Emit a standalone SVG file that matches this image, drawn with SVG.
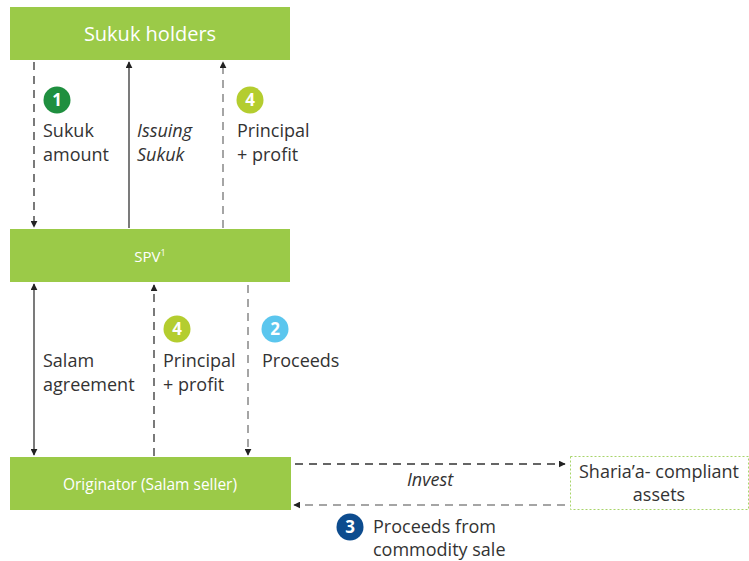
<svg xmlns="http://www.w3.org/2000/svg" width="749" height="561" viewBox="0 0 749 561">
<style>
.box{fill:#9BCA48}
.bt{fill:#fff;font-family:"Open Sans","Noto Sans",sans-serif;text-anchor:middle}
.t{fill:#333;font-family:"Open Sans","Noto Sans",sans-serif;font-size:18px}
.i{font-style:italic}
.n{fill:#fff;font-family:"Open Sans","Noto Sans",sans-serif;font-size:17px;font-weight:bold;text-anchor:middle}
.s{fill:none;stroke:#333;stroke-width:1.3}
.d{fill:none;stroke:#333;stroke-width:1.3;stroke-dasharray:8,6}
.g{fill:none;stroke:#888;stroke-width:1.5;stroke-dasharray:8,6}
</style>
<defs>
<marker id="a" viewBox="0 0 10 10" refX="9" refY="5" markerWidth="7" markerHeight="7" orient="auto-start-reverse" markerUnits="userSpaceOnUse"><path d="M0,0L10,5L0,10z" fill="#222"/></marker>
</defs>
<g id="connectors">
<line class="d" x1="34" y1="62" x2="34" y2="227" marker-end="url(#a)"/>
<line class="s" x1="129" y1="228" x2="129" y2="62" marker-end="url(#a)"/>
<line class="g" x1="223" y1="228" x2="223" y2="62" marker-end="url(#a)"/>
<line class="s" x1="34" y1="284" x2="34" y2="455" marker-start="url(#a)" marker-end="url(#a)"/>
<line class="d" x1="154" y1="456" x2="154" y2="285" marker-end="url(#a)"/>
<line class="g" x1="248" y1="285" x2="248" y2="455" marker-end="url(#a)"/>
<line class="d" x1="295" y1="464" x2="565" y2="464" marker-end="url(#a)"/>
<line class="g" x1="565" y1="505" x2="294" y2="505" marker-end="url(#a)"/>
</g>
<g id="sukuk-holders">
<rect class="box" x="10" y="7" width="280" height="53"/>
<text class="bt" x="150" y="41" font-size="20">Sukuk holders</text>
</g>
<g id="spv">
<rect class="box" x="10" y="229" width="280" height="53"/>
<text class="bt" x="150" y="262" font-size="15">SPV<tspan font-size="9" dy="-6">1</tspan></text>
</g>
<g id="originator">
<rect class="box" x="10" y="457" width="281" height="53"/>
<text class="bt" x="150" y="490" font-size="15.5">Originator (Salam seller)</text>
</g>
<g id="assets">
<rect x="570.5" y="456.5" width="178" height="53" fill="none" stroke="#A8D46A" stroke-width="1" stroke-dasharray="2,2"/>
<text class="t" x="659" y="478" text-anchor="middle">Sharia’a- compliant</text>
<text class="t" x="659" y="501" text-anchor="middle">assets</text>
</g>
<g id="labels">
<circle cx="57" cy="100" r="13.5" fill="#1F8F3F"/><text class="n" x="57" y="106">1</text>
<text class="t" x="43" y="137">Sukuk</text><text class="t" x="43" y="161">amount</text>
<text class="t i" x="137" y="137">Issuing</text><text class="t i" x="137" y="161">Sukuk</text>
<circle cx="250" cy="100" r="13.5" fill="#B4CD2F"/><text class="n" x="250" y="106">4</text>
<text class="t" x="237" y="137">Principal</text><text class="t" x="237" y="161">+ profit</text>
<text class="t" x="43" y="367">Salam</text><text class="t" x="43" y="391">agreement</text>
<circle cx="177" cy="329" r="13.5" fill="#B4CD2F"/><text class="n" x="177" y="335">4</text>
<text class="t" x="163" y="367">Principal</text><text class="t" x="163" y="391">+ profit</text>
<circle cx="275" cy="329" r="13.5" fill="#5BC6EE"/><text class="n" x="275" y="335">2</text>
<text class="t" x="262" y="367">Proceeds</text>
<text class="t i" x="430" y="486" text-anchor="middle">Invest</text>
<circle cx="350" cy="527" r="13.5" fill="#0D4C8E"/><text class="n" x="350" y="533">3</text>
<text class="t" x="373" y="533">Proceeds from</text><text class="t" x="373" y="556">commodity sale</text>
</g>
</svg>
